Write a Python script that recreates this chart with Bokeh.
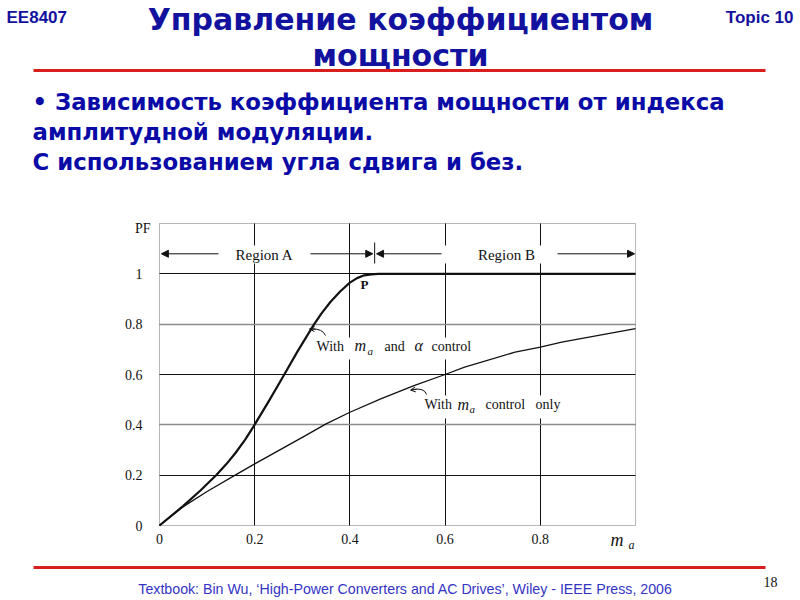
from bokeh.plotting import figure
from bokeh.models import (Range1d, FixedTicker, Label, Arrow, NormalHead, OpenHead,
                          BoxAnnotation, Grid, LinearAxis)
from bokeh.embed import file_html
from bokeh.resources import INLINE

# ---------------- data ----------------
ma_alpha_x = [0, 0.05, 0.086, 0.12, 0.14, 0.16, 0.18, 0.2, 0.23, 0.261, 0.29, 0.324,
              0.34, 0.359, 0.38, 0.4, 0.415, 0.43, 0.445, 0.46, 1.0]
ma_alpha_pf = [0, 0.078, 0.139, 0.202, 0.243, 0.289, 0.341, 0.401, 0.495, 0.596, 0.692, 0.797,
               0.842, 0.888, 0.931, 0.965, 0.983, 0.994, 0.998, 1.0, 1.0]
ma_only_x = [0, 0.05, 0.1, 0.159, 0.2, 0.3, 0.35, 0.4, 0.466, 0.536, 0.6, 0.641, 0.747, 0.8, 0.845, 1.0]
ma_only_pf = [0, 0.075, 0.135, 0.2, 0.245, 0.35, 0.404, 0.45, 0.504, 0.557, 0.6, 0.629, 0.689, 0.709, 0.729, 0.782]

x_ticks = [0, 0.2, 0.4, 0.6, 0.8]
x_tick_labels = ["0", "0.2", "0.4", "0.6", "0.8"]
y_ticks = [0, 0.2, 0.4, 0.6, 0.8, 1.0]
y_tick_labels = ["0", "0.2", "0.4", "0.6", "0.8", "1"]
x_limits = [0.0, 1.0]
y_limits = [0.0, 1.2]

region_names = ["Region A", "Region B"]
region_bounds = [0.0, 0.452, 1.0]
point_p = "P"

TITLE_LINES = ["Управление коэффициентом", "мощности"]
BULLET_LINES = ["• Зависимость коэффициента мощности от индекса",
                "амплитудной модуляции.",
                "С использованием угла сдвига и без."]
FOOTER = "Textbook: Bin Wu, \u2018High-Power Converters and AC Drives\u2019, Wiley - IEEE Press, 2006"
COURSE = "EE8407"
TOPIC = "Topic 10"
PAGE = "18"

# ---------------- styles ----------------
BLUE_T = "#12129e"
BLUE_B = "#0a0aa6"
BLUE_F = "#3434c4"
RED = "#d91e1e"
INK = "#111111"
GREY = "#8c8c8c"

# picture pixel -> data helpers (used for placing annotations and the frame)
PX0, PX1 = 159.0, 635.0
PY0, PY1 = 525.0, 223.0
def dx(X):
    return (X - PX0) / (PX1 - PX0)
def dy(Y):
    return (PY0 - Y) / (PY0 - PY1) * 1.2

p = figure(width=800, height=600, x_range=Range1d(dx(0), dx(800)), y_range=Range1d(dy(600), dy(0)),
           output_backend="svg", toolbar_location=None, title=None,
           x_axis_location=None, y_axis_location=None, min_border=0, outline_line_color=None)
p.center = [r for r in p.center if not isinstance(r, Grid)]

# ---- axes (real axes, pinned at 0) ----
def make_axis(ticks, labels, standoff):
    return LinearAxis(fixed_location=0, ticker=FixedTicker(ticks=ticks),
                      major_label_overrides={t: l for t, l in zip(ticks, labels)},
                      axis_line_color=None, major_tick_line_color=None, minor_tick_line_color=None,
                      major_label_text_font="Liberation Serif", major_label_text_font_size="14px",
                      major_label_text_color=INK, major_label_standoff=standoff)
p.add_layout(make_axis(x_ticks, x_tick_labels, 2), "below")
p.add_layout(make_axis(y_ticks, y_tick_labels, 11), "left")

# ---- grid ----
def add_grid(dim, ticks, color, width, cross):
    try:
        p.add_layout(Grid(dimension=dim, ticker=FixedTicker(ticks=ticks), cross_bounds=tuple(cross),
                          grid_line_color=color, grid_line_width=width))
    except Exception:
        if dim == 0:
            p.segment(x0=ticks, y0=[cross[0]] * len(ticks), x1=ticks, y1=[cross[1]] * len(ticks),
                      line_color=color, line_width=width, level="underlay")
        else:
            p.segment(x0=[cross[0]] * len(ticks), y0=ticks, x1=[cross[1]] * len(ticks), y1=ticks,
                      line_color=color, line_width=width, level="underlay")

add_grid(0, x_ticks[1:], INK, 1, y_limits)
add_grid(1, y_ticks[1::2], INK, 1, x_limits)
add_grid(1, y_ticks[2::2], GREY, 1.5, x_limits)
p.add_layout(BoxAnnotation(left=x_limits[0], right=x_limits[1], bottom=y_limits[0], top=y_limits[1],
                           fill_color=None, line_color=INK, line_width=1, level="underlay"))

# ---- curves ----
p.line(ma_alpha_x, ma_alpha_pf, line_color=INK, line_width=2.2, line_join="round")
p.line(ma_only_x, ma_only_pf, line_color=INK, line_width=1.3, line_join="round")

# region boundary tick
p.segment(x0=[region_bounds[1]], y0=[dy(263)], x1=[region_bounds[1]], y1=[dy(242)],
          line_color=INK, line_width=1)

# region arrows
ry = dy(253.3)
for a, b in ((region_bounds[0] + 0.004, region_bounds[1] - 0.004),
             (region_bounds[1] + 0.004, region_bounds[2] - 0.002)):
    p.add_layout(Arrow(x_start=a, y_start=ry, x_end=b, y_end=ry,
                       start=NormalHead(size=7, fill_color=INK, line_color=INK),
                       end=NormalHead(size=7, fill_color=INK, line_color=INK),
                       line_color=INK, line_width=1))

# pointer arrows (curved)
p.quadratic(x0=[dx(325)], y0=[dy(335)], x1=[dx(311)], y1=[dy(328.5)], cx=[dx(322)], cy=[dy(328)],
            line_color=INK, line_width=1)
p.add_layout(Arrow(x_start=dx(315), y_start=dy(328.6), x_end=dx(309), y_end=dy(328.4),
                   end=OpenHead(size=5, line_color=INK, line_width=1), line_color=INK, line_width=1))
p.quadratic(x0=[dx(426)], y0=[dy(394)], x1=[dx(412)], y1=[dy(389)], cx=[dx(424)], cy=[dy(387)],
            line_color=INK, line_width=1)
p.add_layout(Arrow(x_start=dx(416), y_start=dy(388.8), x_end=dx(410), y_end=dy(389.6),
                   end=OpenHead(size=5, line_color=INK, line_width=1), line_color=INK, line_width=1))

# white masks behind labels
for l, r, t, b in ((218, 310, 245, 263), (441, 557, 245, 263), (312, 481, 337, 359), (421, 582, 395, 418)):
    p.add_layout(BoxAnnotation(left=dx(l), right=dx(r), top=dy(t), bottom=dy(b),
                               fill_color="white", fill_alpha=1, line_color=None))

K = 0.3  # renderer places the alphabetic baseline ~0.3em lower than requested

def lab(X, Y, text, size=13, style="normal", align="left", font="Liberation Serif", color=INK):
    p.add_layout(Label(x=dx(X), y=dy(Y - K * size), text=text, text_align=align,
                       text_baseline="alphabetic", text_font=font, text_font_size=f"{size}px",
                       text_font_style=style, text_color=color))

lab(264, 259, region_names[0], size=15, align="center")
lab(506, 259, region_names[1], size=15, align="center")
lab(360, 288, point_p, size=13, style="bold")
lab(150, 232, "PF", size=14, align="right")

# "With m_a and alpha control"
lab(316, 350, "With", size=14)
lab(354, 350, "m", size=16, style="italic")
lab(367, 354, "a", size=11, style="italic")
lab(384, 350, "and", size=14)
lab(414, 350, "\u03b1", size=16, style="italic")
lab(431, 350, "control", size=14)
# "With m_a control only"
lab(424, 408.5, "With", size=14)
lab(457, 408.5, "m", size=16, style="italic")
lab(469, 412, "a", size=11, style="italic")
lab(485, 408.5, "control", size=14)
lab(535, 408.5, "only", size=14)
# axis label m_a
lab(610, 545, "m", size=18, style="italic")
lab(628, 548, "a", size=12, style="italic")

# ---------------- slide header / footer ----------------
lab(6, 22, COURSE, size=17, style="bold", font="Liberation Sans", color=BLUE_T)
lab(793, 22, TOPIC, size=17, style="bold", align="right", font="Liberation Sans", color=BLUE_T)
lab(400, 28, TITLE_LINES[0], size=30, style="bold", align="center", font="DejaVu Sans", color=BLUE_T)
lab(400, 64, TITLE_LINES[1], size=30, style="bold", align="center", font="DejaVu Sans", color=BLUE_T)
for yy, line in zip((108, 138, 168), BULLET_LINES):
    lab(32, yy, line, size=22.8, style="bold", font="DejaVu Sans", color=BLUE_B)
lab(405, 593, FOOTER, size=14.2, align="center", font="Liberation Sans", color=BLUE_F)
lab(770, 586, PAGE, size=14, align="center")

for yline in (70, 567):
    p.add_layout(BoxAnnotation(left=dx(33), right=dx(765), top=dy(yline - 1.5), bottom=dy(yline + 1.5),
                               fill_color=RED, fill_alpha=1, line_color=None))

open("out.html", "w").write(file_html(p, INLINE))
